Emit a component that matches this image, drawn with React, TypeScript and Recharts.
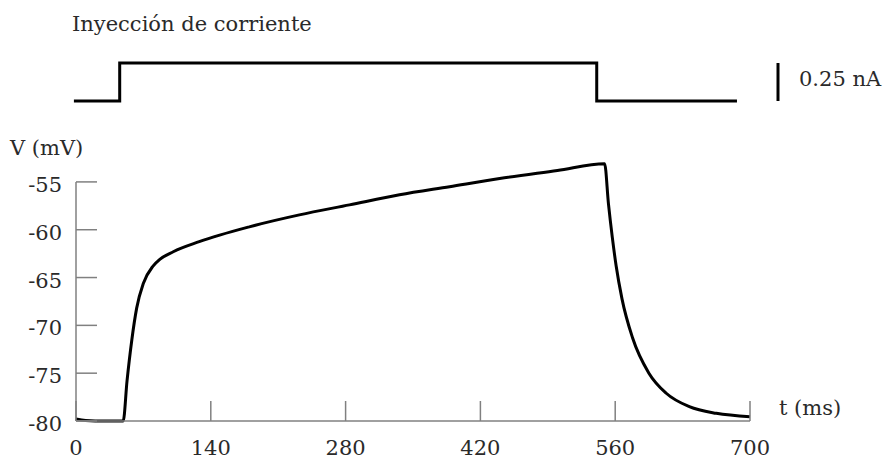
import React from 'react';
import { LineChart, Line, XAxis, YAxis, ReferenceLine } from 'recharts';

// membrane potential trace (ms, mV)
const vTimes = [0, 10, 20, 49, 53, 58, 63, 70, 80, 87, 101, 128, 180, 232, 284, 336, 388, 440, 500, 549, 553, 557, 561, 567, 578, 595, 613, 637, 665, 700];
const vValues = [-79.8, -79.95, -80, -80, -75.8, -71.5, -68.2, -65.6, -63.8, -63.1, -62.3, -61.25, -59.7, -58.45, -57.4, -56.35, -55.5, -54.65, -53.8, -53.1, -57.3, -60.8, -63.8, -67.2, -71.3, -75.0, -77.1, -78.5, -79.2, -79.55];

// injected current step (ms, nA)
const iTimes = [2, 50, 50, 550, 550, 697];
const iValues = [0, 0, 0.25, 0.25, 0, 0];

const xTicks = [0, 140, 280, 420, 560, 700];
const yTicks = [-80, -75, -70, -65, -60, -55];

const voltage = vTimes.map((t, i) => ({ t, v: vValues[i] }));
const current = iTimes.map((t, i) => ({ t, i: iValues[i] }));

const FONT = "'DejaVu Serif', serif";
const FS = 21;
const AXIS = '#808080';
const TEXT = '#2a2a2a';

const YTick = (props: any) => {
  const { x, y, payload } = props;
  return (
    <g>
      <line x1={x + 14} y1={y} x2={x + 35} y2={y} stroke={AXIS} strokeWidth={1.5} />
      <text x={x} y={y} dy={10} textAnchor="end" fontFamily={FONT} fontSize={FS} fill={TEXT}>
        {payload.value}
      </text>
    </g>
  );
};

const XTick = (props: any) => {
  const { x, y, payload } = props;
  return (
    <g>
      <line x1={x} y1={y} x2={x} y2={y - 20} stroke={AXIS} strokeWidth={1.5} />
      <text x={x} y={y + 34} textAnchor="middle" fontFamily={FONT} fontSize={FS} fill={TEXT}>
        {payload.value}
      </text>
    </g>
  );
};

const label = (text: string, left: number, top: number) => (
  <div
    style={{
      position: 'absolute',
      left,
      top,
      fontFamily: FONT,
      fontSize: FS,
      lineHeight: `${FS}px`,
      color: TEXT,
      whiteSpace: 'nowrap',
    }}
  >
    {text}
  </div>
);

export default function App() {
  return (
    <div style={{ position: 'absolute', left: 0, top: 0, width: 887, height: 459, background: '#fff', overflow: 'hidden' }}>
      <div style={{ position: 'absolute', left: 0, top: 0 }}>
        <LineChart width={887} height={459} data={voltage} margin={{ top: 158, right: 137, bottom: 8, left: 0 }}>
          <XAxis
            dataKey="t"
            type="number"
            domain={[0, 700]}
            ticks={xTicks}
            height={30}
            tickSize={0}
            tickMargin={0}
            tickLine={false}
            axisLine={{ stroke: AXIS, strokeWidth: 1.5 }}
            tick={<XTick />}
          />
          <YAxis
            type="number"
            domain={[-80, -52.5]}
            ticks={yTicks}
            width={76}
            tickSize={0}
            tickMargin={14}
            tickLine={false}
            axisLine={false}
            tick={<YTick />}
          />
          <ReferenceLine
            segment={[{ x: 0, y: -80 }, { x: 0, y: -55 }]}
            stroke={AXIS}
            strokeWidth={1.5}
          />
          <Line
            dataKey="v"
            type="monotone"
            stroke="#000"
            strokeWidth={3}
            dot={false}
            isAnimationActive={false}
          />
        </LineChart>
      </div>
      <div style={{ position: 'absolute', left: 0, top: 0 }}>
        <LineChart width={887} height={130} data={current} margin={{ top: 63, right: 109, bottom: 29, left: 72 }}>
          <XAxis dataKey="t" type="number" domain={[0, 740]} hide />
          <YAxis type="number" domain={[0, 0.25]} hide />
          <ReferenceLine
            segment={[{ x: 740, y: 0 }, { x: 740, y: 0.25 }]}
            stroke="#000"
            strokeWidth={3}
            label={{ value: '0.25 nA', position: 'right', offset: 21, fontFamily: FONT, fontSize: FS, fill: TEXT, dy: -3 }}
          />
          <Line
            dataKey="i"
            type="linear"
            stroke="#000"
            strokeWidth={3}
            dot={false}
            isAnimationActive={false}
          />
        </LineChart>
      </div>
      {label('Inyección de corriente', 72, 14)}
      {label('V (mV)', 10, 138)}
      {label('t (ms)', 779, 398)}
    </div>
  );
}
